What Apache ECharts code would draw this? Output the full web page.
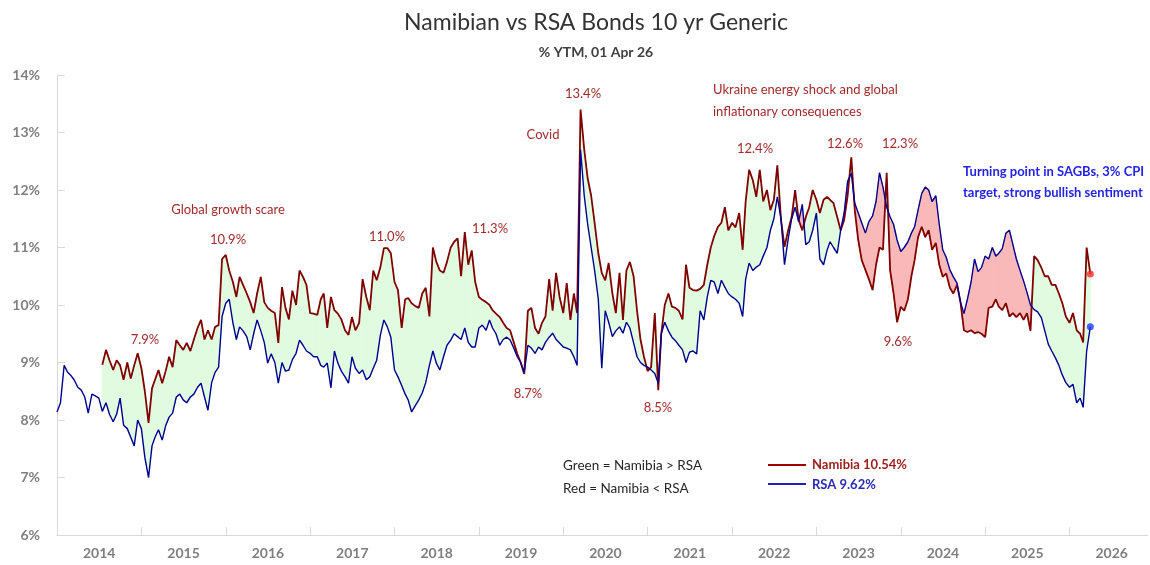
<!DOCTYPE html>
<html>
<head>
<meta charset="UTF-8">
<title>Namibian vs RSA Bonds 10 yr Generic</title>
<script src="https://cdn.jsdelivr.net/npm/echarts@6.0.0/dist/echarts.min.js"></script>
<style>
  * { margin: 0; padding: 0; }
  body { background: #fff; }
  #main { width: 1150px; height: 565px; }
</style>
</head>
<body>
<div id="main"></div>
<script>
// yields, one value every half month (1st and 16th)
// RSA starts 1 Jan 2014, Namibia starts 16 Jul 2014
var rsa2014 = [8.14, 8.3, 8.95, 8.83, 8.78, 8.7, 8.57, 8.52, 8.4, 8.12, 8.45, 8.42, 8.38, 8.15, 8.3, 8.1, 7.97, 8.1, 8.38, 7.91, 7.85, 7.7, 7.55, 8.0];
var rsa2015 = [7.85, 7.35, 7.0, 7.55, 7.7, 7.83, 7.65, 7.9, 8.05, 8.12, 8.4, 8.45, 8.35, 8.3, 8.4, 8.45, 8.57, 8.64, 8.4, 8.17, 8.65, 8.83, 8.92, 9.8];
var rsa2016 = [10.03, 10.1, 9.69, 9.4, 9.62, 9.55, 9.45, 9.22, 9.5, 9.74, 9.55, 9.35, 8.99, 9.15, 9.0, 8.64, 9.0, 8.85, 8.87, 9.05, 9.16, 9.39, 9.3, 9.2];
var rsa2017 = [9.16, 9.1, 9.1, 8.95, 8.92, 8.99, 8.56, 9.2, 8.99, 8.85, 8.75, 8.64, 9.1, 8.9, 8.81, 8.87, 8.7, 8.75, 8.9, 9.04, 9.48, 9.74, 9.62, 9.44];
var rsa2018 = [8.87, 8.75, 8.6, 8.45, 8.35, 8.14, 8.25, 8.35, 8.47, 8.65, 8.95, 9.2, 8.99, 8.87, 9.1, 9.3, 9.39, 9.5, 9.45, 9.4, 9.6, 9.35, 9.27, 9.27];
var rsa2019 = [9.6, 9.65, 9.56, 9.74, 9.6, 9.5, 9.3, 9.4, 9.44, 9.39, 9.25, 9.1, 9.0, 8.82, 9.3, 9.25, 9.16, 9.27, 9.22, 9.35, 9.44, 9.51, 9.4, 9.34];
var rsa2020 = [9.27, 9.25, 9.22, 9.1, 8.95, 12.7, 11.9, 11.4, 11.0, 10.6, 10.1, 8.9, 9.9, 9.7, 9.45, 9.55, 9.62, 9.51, 9.7, 9.6, 9.34, 9.1, 9.0, 8.95];
var rsa2021 = [8.92, 8.87, 8.81, 8.64, 9.5, 9.7, 9.55, 9.44, 9.38, 9.3, 9.22, 9.0, 9.18, 9.2, 9.15, 9.9, 9.74, 10.14, 10.43, 10.4, 10.2, 10.43, 10.31, 10.2];
var rsa2022 = [10.14, 10.1, 10.03, 9.8, 10.45, 10.73, 10.6, 10.66, 10.7, 10.85, 11.0, 11.3, 11.5, 11.88, 11.5, 10.7, 11.15, 11.5, 11.7, 11.45, 11.75, 11.05, 11.1, 11.3];
var rsa2023 = [11.6, 10.8, 10.7, 10.95, 11.1, 11.0, 10.9, 11.3, 11.6, 12.15, 12.29, 11.77, 11.6, 11.43, 11.25, 11.45, 11.55, 11.8, 12.3, 12.05, 11.7, 11.53, 11.4, 11.13];
var rsa2024 = [10.93, 11.0, 11.1, 11.25, 11.36, 11.65, 11.94, 12.05, 12.0, 11.8, 11.9, 11.4, 10.96, 10.83, 10.61, 10.49, 10.38, 10.05, 9.85, 10.1, 10.4, 10.8, 10.58, 10.65];
var rsa2025 = [10.85, 10.8, 11.0, 10.85, 10.9, 10.98, 11.25, 11.3, 11.05, 10.8, 10.6, 10.42, 10.22, 10.0, 9.92, 9.88, 9.78, 9.55, 9.32, 9.2, 9.08, 8.95, 8.78, 8.65];
var rsa2026 = [8.57, 8.62, 8.3, 8.38, 8.22, 9.2, 9.62];

var nam2014 = [8.96, 9.22, 9.04, 8.87, 9.04, 8.95, 8.7, 9.0, 8.72, 8.95, 9.16];
var nam2015 = [8.9, 8.5, 7.95, 8.55, 8.7, 8.87, 8.64, 8.85, 9.1, 8.92, 9.39, 9.3, 9.22, 9.34, 9.2, 9.4, 9.6, 9.74, 9.4, 9.56, 9.4, 9.62, 9.65, 10.8];
var nam2016 = [10.87, 10.6, 10.4, 10.14, 10.49, 10.35, 10.2, 10.05, 9.86, 10.2, 10.49, 10.05, 9.95, 9.9, 9.86, 9.34, 10.31, 9.95, 9.75, 10.25, 10.0, 10.6, 10.49, 10.35];
var nam2017 = [9.86, 9.85, 9.83, 10.1, 10.2, 9.6, 10.14, 9.91, 9.85, 9.75, 9.56, 9.48, 9.79, 9.56, 9.69, 10.45, 10.14, 9.91, 10.6, 10.43, 10.66, 10.99, 10.99, 10.9];
var nam2018 = [10.4, 10.26, 9.6, 10.1, 10.12, 10.03, 9.98, 9.95, 10.2, 10.3, 9.8, 11.0, 10.75, 10.6, 10.56, 10.75, 11.0, 11.1, 11.16, 10.5, 11.27, 10.7, 10.95, 10.4];
var nam2019 = [10.14, 10.09, 10.05, 10.0, 9.91, 9.85, 9.79, 9.69, 9.6, 9.56, 9.35, 9.15, 9.0, 8.8, 9.9, 9.95, 9.6, 9.5, 9.69, 9.8, 10.45, 9.9, 10.56, 10.14];
var nam2020 = [9.86, 10.38, 9.74, 10.2, 9.86, 13.4, 12.7, 12.2, 11.9, 11.43, 10.9, 10.56, 10.43, 10.73, 10.2, 9.86, 10.56, 9.74, 10.6, 10.75, 10.5, 9.9, 9.4, 9.1];
var nam2021 = [8.85, 8.92, 9.86, 8.52, 9.5, 10.0, 10.2, 9.97, 9.95, 9.9, 9.75, 10.7, 10.3, 10.26, 10.25, 10.28, 10.35, 10.7, 11.0, 11.2, 11.36, 11.43, 11.7, 11.3];
var nam2022 = [11.43, 11.35, 11.6, 10.96, 11.8, 12.35, 12.17, 11.88, 12.35, 11.8, 12.0, 11.65, 11.83, 12.43, 11.48, 11.01, 11.3, 11.53, 12.0, 11.48, 11.3, 11.53, 11.7, 12.0];
var nam2023 = [11.83, 11.6, 11.83, 11.88, 11.83, 11.77, 11.53, 11.3, 11.48, 11.9, 12.57, 11.65, 11.13, 10.78, 10.61, 10.45, 10.26, 10.7, 11.0, 10.96, 12.3, 10.6, 10.2, 9.7];
var nam2024 = [9.97, 9.9, 10.1, 10.5, 10.78, 11.18, 11.36, 11.18, 11.3, 10.96, 11.08, 10.7, 10.49, 10.55, 10.3, 10.2, 10.35, 10.05, 9.56, 9.53, 9.56, 9.51, 9.53, 9.5];
var nam2025 = [9.44, 9.95, 9.97, 10.1, 9.97, 9.91, 10.03, 9.8, 9.86, 9.79, 9.86, 9.74, 9.86, 9.55, 10.85, 10.78, 10.65, 10.5, 10.5, 10.35, 10.35, 10.2, 10.03, 9.8];
var nam2026 = [9.69, 9.86, 9.56, 9.5, 9.35, 11.0, 10.54];

var yearTicks = [2014, 2015, 2016, 2017, 2018, 2019, 2020, 2021, 2022, 2023, 2024, 2025, 2026];

var rsa = [].concat(rsa2014, rsa2015, rsa2016, rsa2017, rsa2018, rsa2019, rsa2020, rsa2021, rsa2022, rsa2023, rsa2024, rsa2025, rsa2026);
var nam = [].concat(nam2014, nam2015, nam2016, nam2017, nam2018, nam2019, nam2020, nam2021, nam2022, nam2023, nam2024, nam2025, nam2026);
var namOffset = rsa.length - nam.length; // Namibia series begins later

// half month index -> date as a decimal year (x axis is a value axis in years)
function dateAt(i) {
  var y = 2014 + Math.floor(i / 24);
  var t = Date.UTC(y, Math.floor((i % 24) / 2), i % 2 ? 16 : 1);
  var y0 = Date.UTC(y, 0, 1), y1 = Date.UTC(y + 1, 0, 1);
  return y + (t - y0) / (y1 - y0);
}

var rsaData = [], namData = [];
for (var i = 0; i < rsa.length; i++) {
  rsaData.push([dateAt(i), rsa[i]]);
  if (i >= namOffset) namData.push([dateAt(i), nam[i - namOffset]]);
}
// one band item per step: [x0, nam0, rsa0, x1, nam1, rsa1]
var bandData = [];
for (var k = namOffset; k < rsa.length - 1; k++) {
  bandData.push([dateAt(k), nam[k - namOffset], rsa[k], dateAt(k + 1), nam[k + 1 - namOffset], rsa[k + 1]]);
}
var lastRsa = rsa[rsa.length - 1];
var lastNam = nam[nam.length - 1];
var lastDate = dateAt(rsa.length - 1);

// ticks on 1 Jan, year labels in the middle of each year
var labelValues = yearTicks.map(function (y) { return y + 0.5; });

var GREEN_FILL = '#e0fbe0';
var RED_FILL = '#fab9b9';
var RED_TXT = '#a02b2b';
var FONT = 'Lato, "Open Sans", sans-serif';

function note(txt, x, y, color, opts) {
  opts = opts || {};
  return {
    type: 'text', x: x, y: y, silent: true, z: 100,
    style: {
      text: txt, fill: color || RED_TXT,
      font: (opts.weight || 'normal') + ' ' + (opts.size || 13) + 'px ' + FONT,
      align: opts.align || 'center', textAlign: opts.align || 'center',
      verticalAlign: 'middle', textVerticalAlign: 'middle'
    }
  };
}

// fill between the two lines, split where they cross
function renderBand(params, api) {
  var x0 = api.value(0), n0 = api.value(1), r0 = api.value(2);
  var x1 = api.value(3), n1 = api.value(4), r1 = api.value(5);
  var d0 = n0 - r0, d1 = n1 - r1;
  function poly(pts, up) {
    var c = up ? GREEN_FILL : RED_FILL;
    return {
      type: 'polygon',
      shape: { points: pts.map(function (p) { return api.coord(p); }) },
      style: { fill: c, stroke: c, lineWidth: 1 }
    };
  }
  var children = [];
  if ((d0 >= 0 && d1 >= 0) || (d0 <= 0 && d1 <= 0)) {
    children.push(poly([[x0, n0], [x1, n1], [x1, r1], [x0, r0]], d0 + d1 >= 0));
  } else {
    var f = d0 / (d0 - d1);
    var xc = x0 + f * (x1 - x0), yc = n0 + f * (n1 - n0);
    children.push(poly([[x0, n0], [xc, yc], [x0, r0]], d0 > 0));
    children.push(poly([[xc, yc], [x1, n1], [x1, r1]], d1 > 0));
  }
  return { type: 'group', children: children };
}

var myChart = echarts.init(document.getElementById('main'));

var option = {
  backgroundColor: '#fff',
  animation: false,
  grid: { left: 57, right: 2, top: 75, bottom: 30 },
  xAxis: {
    type: 'value',
    min: 2014,
    max: 2026.93,
    axisLine: { show: true, lineStyle: { color: '#d9d9d9', width: 1 } },
    axisTick: { show: true, inside: true, length: 8, customValues: yearTicks, lineStyle: { color: '#d9d9d9' } },
    axisLabel: {
      customValues: labelValues,
      formatter: function (v) { return String(Math.floor(v)); },
      color: '#7f7f7f', fontWeight: 'bold', fontSize: 14, fontFamily: FONT, margin: 11
    },
    splitLine: { show: false }
  },
  yAxis: {
    type: 'value', min: 6, max: 14, interval: 1,
    axisLine: { show: true, lineStyle: { color: '#d9d9d9' } },
    axisTick: { show: true, inside: true, length: 8, lineStyle: { color: '#d9d9d9' } },
    axisLabel: { formatter: '{value}%', color: '#7f7f7f', fontWeight: 'bold', fontSize: 14, fontFamily: FONT, margin: 17 },
    splitLine: { show: false }
  },
  series: [
    { name: 'spread', type: 'custom', data: bandData, renderItem: renderBand, silent: true,
      encode: { x: [0, 3], y: [1, 2, 4, 5] } },
    { name: 'Namibia', type: 'line', data: namData, symbol: 'none', lineStyle: { color: '#800000', width: 1.8 } },
    { name: 'RSA', type: 'line', data: rsaData, symbol: 'none', lineStyle: { color: '#00008f', width: 1.4 } },
    { name: 'ends', type: 'scatter', symbolSize: 7, z: 5, silent: true,
      data: [
        { value: [lastDate, lastNam], itemStyle: { color: '#ff2a2a' } },
        { value: [lastDate, lastRsa], itemStyle: { color: '#1a3cff' } }
      ] }
  ],
  graphic: [
    note('Namibian vs RSA Bonds 10 yr Generic', 596, 23, '#333333', { size: 23 }),
    note('% YTM, 01 Apr 26', 596, 52, '#404040', { size: 14, weight: 'bold' }),

    note('7.9%', 145, 340),
    note('Global growth scare', 228, 210),
    note('10.9%', 228, 240),
    note('11.0%', 387, 237),
    note('11.3%', 490, 229),
    note('8.7%', 528, 394),
    note('Covid', 543, 135),
    note('13.4%', 583, 94),
    note('8.5%', 658, 408),
    note('Ukraine energy shock and global', 713, 90, RED_TXT, { align: 'left' }),
    note('inflationary consequences', 713, 112, RED_TXT, { align: 'left' }),
    note('12.4%', 755, 149),
    note('12.6%', 845, 144),
    note('12.3%', 900, 144),
    note('9.6%', 898, 342),
    note('Turning point in SAGBs, 3% CPI', 963, 172, '#2424e8', { align: 'left', weight: 'bold' }),
    note('target, strong bullish sentiment', 963, 193, '#2424e8', { align: 'left', weight: 'bold' }),

    // legend
    note('Green = Namibia > RSA', 563, 466, '#262626', { align: 'left', size: 13.5 }),
    note('Red = Namibia < RSA', 563, 489, '#262626', { align: 'left', size: 13.5 }),
    { type: 'line', silent: true, z: 100, shape: { x1: 768, y1: 465, x2: 806, y2: 465 }, style: { stroke: '#a00000', lineWidth: 2 } },
    { type: 'line', silent: true, z: 100, shape: { x1: 768, y1: 484, x2: 806, y2: 484 }, style: { stroke: '#2020b0', lineWidth: 2 } },
    note('Namibia ' + lastNam.toFixed(2) + '%', 812, 465, '#9c1c1c', { align: 'left', weight: 'bold' }),
    note('RSA ' + lastRsa.toFixed(2) + '%', 812, 485, '#2a2ab4', { align: 'left', weight: 'bold' })
  ]
};

myChart.setOption(option);
</script>
</body>
</html>
